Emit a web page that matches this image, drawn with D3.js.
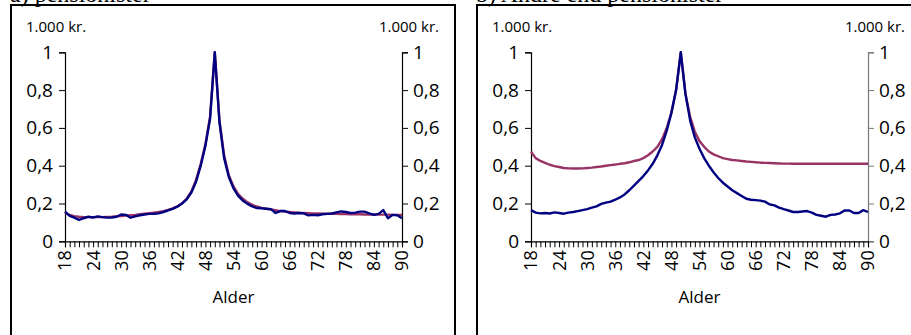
<!DOCTYPE html>
<html lang="da">
<head>
<meta charset="UTF-8">
<title>Alder</title>
<style>
  body { margin: 0; background: #fff; }
  svg { display: block; }
  text { font-family: 'Open Sans', sans-serif; fill: #000; }
</style>
<script src="https://d3js.org/d3.v7.min.js"></script>
</head>
<body>
<div id="chart"></div>
<script>
// alder 18..90
const ages = d3.range(18, 91);
const xTickLabels = [18, 24, 30, 36, 42, 48, 54, 60, 66, 72, 78, 84, 90];
const yTicks = [0, 0.2, 0.4, 0.6, 0.8, 1];

// panel a)
const leftBlue = [
  0.157, 0.135, 0.125, 0.113, 0.122, 0.130, 0.126, 0.132, 0.128, 0.125,
  0.126, 0.130, 0.142, 0.140, 0.125, 0.132, 0.138, 0.142, 0.145, 0.146,
  0.148, 0.155, 0.163, 0.172, 0.183, 0.200, 0.222, 0.258, 0.315, 0.400,
  0.505, 0.650, 1.000, 0.630, 0.440, 0.340, 0.280, 0.240, 0.215, 0.198,
  0.185, 0.176, 0.174, 0.172, 0.170, 0.150, 0.160, 0.160, 0.150, 0.147,
  0.150, 0.148, 0.137, 0.140, 0.138, 0.143, 0.145, 0.147, 0.153, 0.158,
  0.155, 0.150, 0.152, 0.157, 0.157, 0.148, 0.140, 0.145, 0.165, 0.122,
  0.140, 0.138, 0.122
];
const leftRed = [
  0.150, 0.140, 0.133, 0.130, 0.128, 0.128, 0.128, 0.128, 0.128, 0.129,
  0.130, 0.132, 0.134, 0.136, 0.138, 0.140, 0.143, 0.146, 0.149, 0.152,
  0.155, 0.160, 0.166, 0.174, 0.185, 0.200, 0.226, 0.264, 0.325, 0.410,
  0.515, 0.660, 1.000, 0.640, 0.455, 0.350, 0.290, 0.250, 0.225, 0.206,
  0.193, 0.184, 0.177, 0.172, 0.168, 0.164, 0.160, 0.157, 0.155, 0.153,
  0.151, 0.150, 0.149, 0.148, 0.147, 0.146, 0.146, 0.145, 0.145, 0.144,
  0.144, 0.143, 0.143, 0.143, 0.142, 0.142, 0.142, 0.141, 0.141, 0.141,
  0.140, 0.140, 0.140
];

// panel b)
const rightBlue = [
  0.165, 0.152, 0.148, 0.150, 0.147, 0.153, 0.150, 0.146, 0.152, 0.155,
  0.160, 0.165, 0.170, 0.178, 0.185, 0.198, 0.205, 0.210, 0.220, 0.232,
  0.248, 0.270, 0.295, 0.320, 0.345, 0.375, 0.410, 0.455, 0.510, 0.585,
  0.680, 0.800, 1.000, 0.780, 0.640, 0.550, 0.490, 0.440, 0.400, 0.365,
  0.335, 0.310, 0.290, 0.270, 0.255, 0.240, 0.225, 0.220, 0.218, 0.215,
  0.210, 0.195, 0.190, 0.178, 0.170, 0.163, 0.155, 0.155, 0.158, 0.160,
  0.152, 0.140, 0.135, 0.130, 0.140, 0.142, 0.148, 0.163, 0.163, 0.150,
  0.150, 0.165, 0.155
];
const rightRed = [
  0.474, 0.440, 0.425, 0.415, 0.405, 0.398, 0.393, 0.388, 0.386, 0.385,
  0.385, 0.386, 0.388, 0.390, 0.393, 0.396, 0.400, 0.403, 0.406, 0.410,
  0.413, 0.418, 0.425, 0.430, 0.440, 0.455, 0.475, 0.500, 0.540, 0.600,
  0.680, 0.800, 1.000, 0.780, 0.660, 0.580, 0.530, 0.500, 0.475, 0.460,
  0.450, 0.440, 0.435, 0.430, 0.428, 0.425, 0.422, 0.420, 0.418, 0.416,
  0.415, 0.414, 0.413, 0.412, 0.411, 0.411, 0.410, 0.410, 0.410, 0.410,
  0.410, 0.410, 0.410, 0.410, 0.410, 0.410, 0.410, 0.410, 0.410, 0.410,
  0.410, 0.410, 0.410
];

const panels = [
  { title: "a) pensionister", box: 11, x0: 65, x1: 402, blue: leftBlue, red: leftRed, rightAxis: "#000" },
  { title: "b) Andre end pensionister", box: 477, x0: 531, x1: 868, blue: rightBlue, red: rightRed, rightAxis: "#777" }
];

const width = 911, height = 335;
const svg = d3.select("#chart").append("svg")
  .attr("width", width)
  .attr("height", height);

const y = d3.scaleLinear().domain([0, 1]).range([241.3, 52.3]);
const fmt = d => d3.format(".1f")(d).replace(/\.0$/, "").replace(".", ",");

panels.forEach(p => {
  const g = svg.append("g");

  // titel (afskaaret i toppen, kun bunden ses)
  g.append("text")
    .attr("x", p.box - 1)
    .attr("y", 2)
    .style("font-family", "'Liberation Serif', serif")
    .style("font-size", "24px")
    .text(p.title);

  // ramme
  g.append("rect")
    .attr("x", p.box)
    .attr("y", 5)
    .attr("width", 444)
    .attr("height", 345)
    .attr("fill", "none")
    .attr("stroke", "#000")
    .attr("stroke-width", 2);

  const x = d3.scalePoint().domain(ages).range([p.x0, p.x1]);

  // enhed
  g.append("text")
    .attr("x", p.box + 15)
    .attr("y", 32)
    .style("font-size", "15px")
    .text("1.000 kr.");
  g.append("text")
    .attr("x", p.x1 + 37)
    .attr("y", 32)
    .attr("text-anchor", "end")
    .style("font-size", "15px")
    .text("1.000 kr.");

  // y-akser
  const yl = g.append("g")
    .attr("transform", `translate(${p.x0},0)`)
    .call(d3.axisLeft(y).tickValues(yTicks).tickFormat(fmt).tickSize(6).tickPadding(6));
  const yr = g.append("g")
    .attr("transform", `translate(${p.x1},0)`)
    .call(d3.axisRight(y).tickValues(yTicks).tickFormat(fmt).tickSize(6).tickPadding(5));
  [yl, yr].forEach(a => {
    a.selectAll("text").style("font-size", "19px").style("font-family", "'Open Sans', sans-serif");
    a.select(".domain").attr("stroke-width", 1.2);
  });
  yr.selectAll("line, .domain").attr("stroke", p.rightAxis);

  // x-akse
  const xa = g.append("g")
    .attr("transform", `translate(0,${y(0)})`)
    .call(d3.axisBottom(x).tickSizeOuter(0).tickSize(6).tickFormat(""));
  xa.select(".domain").attr("stroke-width", 1.2);

  g.selectAll(".xlab")
    .data(xTickLabels)
    .join("text")
    .attr("class", "xlab")
    .attr("transform", d => `translate(${x(d)},${y(0) + 9}) rotate(-90)`)
    .attr("text-anchor", "end")
    .attr("dy", "0.36em")
    .style("font-size", "18px")
    .text(d => d);

  g.append("text")
    .attr("x", (p.x0 + p.x1) / 2)
    .attr("y", 303)
    .attr("text-anchor", "middle")
    .style("font-size", "17px")
    .text("Alder");

  // linjer
  const line = d3.line()
    .x((d, i) => x(ages[i]))
    .y(d => y(d));

  g.append("path")
    .datum(p.red)
    .attr("d", line)
    .attr("fill", "none")
    .attr("stroke", "#993366")
    .attr("stroke-width", 2.4)
    .attr("stroke-linejoin", "round");

  g.append("path")
    .datum(p.blue)
    .attr("d", line)
    .attr("fill", "none")
    .attr("stroke", "#000080")
    .attr("stroke-width", 2.4)
    .attr("stroke-linejoin", "round");
});
</script>
</body>
</html>
